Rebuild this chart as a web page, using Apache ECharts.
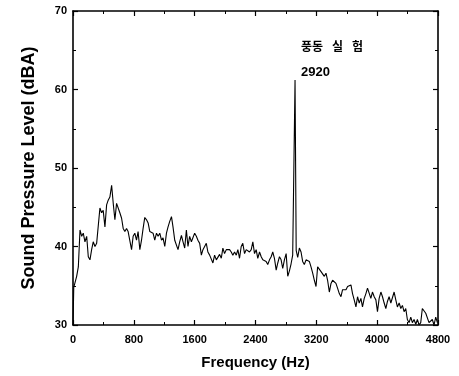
<!DOCTYPE html>
<html>
<head>
<meta charset="utf-8">
<script src="https://cdn.jsdelivr.net/npm/echarts@6/dist/echarts.min.js"></script>
<style>
  html, body { margin: 0; padding: 0; background: #fff; }
  #chart { width: 459px; height: 376px; }
</style>
</head>
<body>
<div id="chart"></div>
<script>
// spectrum (Hz, dBA)
const freqs = [
  0, 10, 48, 70, 92, 114, 135, 157, 180, 201, 223, 245, 266, 289, 311, 354, 376, 397, 420, 442,
  463, 485, 508, 529, 551, 573, 594, 616, 639, 660, 682, 704, 725, 748, 770, 791, 813, 835, 856, 879,
  901, 922, 944, 967, 988, 1010, 1032, 1053, 1075, 1098, 1119, 1141, 1164, 1184, 1207, 1229, 1250, 1272, 1295, 1315,
  1338, 1360, 1381, 1403, 1426, 1447, 1469, 1491, 1512, 1534, 1557, 1578, 1600, 1622, 1643, 1666, 1688, 1709, 1731, 1753,
  1774, 1797, 1819, 1840, 1862, 1885, 1906, 1928, 1950, 1971, 1993, 2016, 2037, 2059, 2081, 2102, 2125, 2147, 2168, 2190,
  2212, 2233, 2256, 2278, 2299, 2321, 2344, 2365, 2387, 2409, 2430, 2453, 2475, 2496, 2518, 2540, 2561, 2584, 2606, 2627,
  2649, 2672, 2693, 2715, 2737, 2758, 2780, 2803, 2824, 2846, 2868, 2889, 2905, 2920, 2935, 2955, 2977, 2999, 3020, 3042,
  3065, 3086, 3108, 3130, 3152, 3174, 3196, 3217, 3239, 3262, 3283, 3305, 3327, 3348, 3371, 3393, 3414, 3436, 3458, 3479,
  3502, 3524, 3545, 3567, 3590, 3611, 3633, 3655, 3676, 3698, 3721, 3742, 3764, 3786, 3807, 3830, 3852, 3873, 3895, 3917,
  3938, 3961, 3983, 4004, 4026, 4049, 4070, 4092, 4114, 4135, 4157, 4180, 4201, 4223, 4245, 4266, 4289, 4311, 4332, 4354,
  4376, 4397, 4420, 4442, 4463, 4485, 4508, 4529, 4551, 4573, 4594, 4617, 4639, 4660, 4682, 4705, 4725, 4748, 4770, 4792
];
const levels = [
  30.0, 34.8, 36.2, 37.4, 42.1, 41.3, 41.7, 40.6, 41.3, 38.7, 38.3, 39.6, 40.6, 40.0, 40.4, 44.9, 44.3, 44.6, 42.5, 45.3,
  45.9, 46.3, 47.8, 45.5, 43.4, 45.5, 45.7, 44.3, 43.6, 42.3, 41.9, 42.3, 41.9, 42.1, 39.6, 41.3, 41.7, 40.8, 41.9, 39.6,
  40.8, 42.3, 43.7, 43.4, 43.0, 41.9, 42.1, 41.7, 40.8, 41.7, 41.3, 41.7, 40.8, 41.1, 40.0, 41.7, 42.5, 43.2, 43.8, 42.5,
  40.8, 40.6, 39.6, 40.6, 41.4, 40.6, 39.8, 42.1, 40.0, 41.3, 40.6, 40.8, 41.7, 41.3, 40.8, 40.4, 38.9, 39.6, 40.0, 40.4,
  39.3, 38.9, 38.7, 37.9, 38.9, 38.3, 38.5, 39.0, 38.5, 39.8, 39.1, 39.6, 39.8, 39.6, 39.3, 38.9, 39.3, 38.9, 39.6, 38.5,
  40.0, 40.4, 39.1, 39.6, 39.8, 39.3, 39.6, 40.6, 39.1, 39.6, 38.5, 39.3, 38.7, 38.3, 38.5, 38.1, 37.7, 38.3, 38.7, 39.3,
  38.5, 37.0, 37.9, 38.7, 38.3, 37.2, 38.3, 39.1, 36.2, 36.9, 37.8, 38.9, 38.8, 61.2, 39.5, 38.6, 39.8, 39.3, 38.1, 37.7,
  38.3, 38.3, 38.1, 37.4, 36.6, 35.7, 34.9, 37.4, 37.2, 36.8, 37.0, 36.2, 36.6, 35.7, 34.2, 35.3, 35.7, 35.9, 35.3, 34.7,
  34.0, 33.6, 34.5, 34.7, 34.5, 34.9, 34.7, 35.1, 34.0, 33.2, 32.3, 33.6, 32.8, 33.4, 32.3, 33.4, 34.0, 34.7, 34.9, 33.4,
  34.2, 33.6, 33.2, 31.7, 33.4, 34.2, 33.6, 32.8, 32.1, 33.0, 33.6, 32.8, 33.0, 34.2, 33.2, 32.3, 32.8, 32.1, 32.5, 31.7,
  32.1, 30.7, 30.3, 31.0, 30.3, 30.7, 30.1, 30.7, 30.0, 30.3, 32.1, 31.9, 31.5, 31.7, 30.3, 30.1, 30.7, 30.0, 31.0, 30.3
];
const xTicks = [0, 800, 1600, 2400, 3200, 4000, 4800];
const yTicks = [30, 40, 50, 60, 70];
const noteTitle = '풍동 실 험';
const notePeak = '2920';

const chart = echarts.init(document.getElementById('chart'), null, { renderer: 'canvas' });

const FONT = 'Liberation Sans';
const tick = { show: true, inside: true, length: 5, lineStyle: { color: '#000', width: 1.2 } };
const minor = { show: true, length: 3, splitNumber: 2, lineStyle: { color: '#000', width: 1 } };
const line = { show: true, onZero: false, lineStyle: { color: '#000', width: 1.6 } };
const tickLabel = { color: '#000', fontFamily: FONT, fontWeight: 'bold', fontSize: 11, formatter: (v) => String(v) };

function xAxis(pos, labels) {
  return {
    type: 'value', position: pos, min: xTicks[0], max: xTicks[xTicks.length - 1], interval: 800,
    axisLine: line, axisTick: tick, minorTick: minor, splitLine: { show: false },
    axisLabel: { ...tickLabel, show: labels, margin: 9 },
    name: labels ? 'Frequency (Hz)' : '', nameLocation: 'middle', nameGap: 30,
    nameTextStyle: { color: '#000', fontFamily: FONT, fontWeight: 'bold', fontSize: 15 },
  };
}
function yAxis(pos, labels) {
  return {
    type: 'value', position: pos, min: yTicks[0], max: yTicks[yTicks.length - 1], interval: 10,
    axisLine: line, axisTick: tick, minorTick: minor, splitLine: { show: false },
    axisLabel: { ...tickLabel, show: labels, margin: 6 },
    name: labels ? 'Sound Pressure Level (dBA)' : '', nameLocation: 'middle', nameGap: 35, nameRotate: 90,
    nameTextStyle: { color: '#000', fontFamily: FONT, fontWeight: 'bold', fontSize: 18 },
  };
}

// wide gaps between the Korean syllables, as in the scan
const noteRich = noteTitle.split(' ').map((w) => `{a|${w}}`).join('{s| }');

chart.setOption({
  backgroundColor: '#fff',
  animation: false,
  grid: { left: 73, right: 21, top: 11, bottom: 51 },
  xAxis: [xAxis('bottom', true), xAxis('top', false)],
  yAxis: [yAxis('left', true), yAxis('right', false)],
  graphic: [
    {
      type: 'text', left: 301, top: 40,
      style: {
        text: noteRich,
        rich: {
          a: { fill: '#000', fontFamily: 'Noto Sans CJK KR', fontWeight: 'bold', fontSize: 12 },
          s: { width: 9, fontSize: 12 },
        },
      },
    },
    { type: 'text', left: 301, top: 66, style: { text: notePeak, fill: '#000', font: 'bold 13px "Liberation Sans"' } },
  ],
  series: [{
    type: 'line',
    xAxisIndex: 0, yAxisIndex: 0,
    data: freqs.map((f, i) => [f, levels[i]]),
    symbol: 'none',
    lineStyle: { color: '#000', width: 1.1 },
  }],
});
</script>
</body>
</html>
